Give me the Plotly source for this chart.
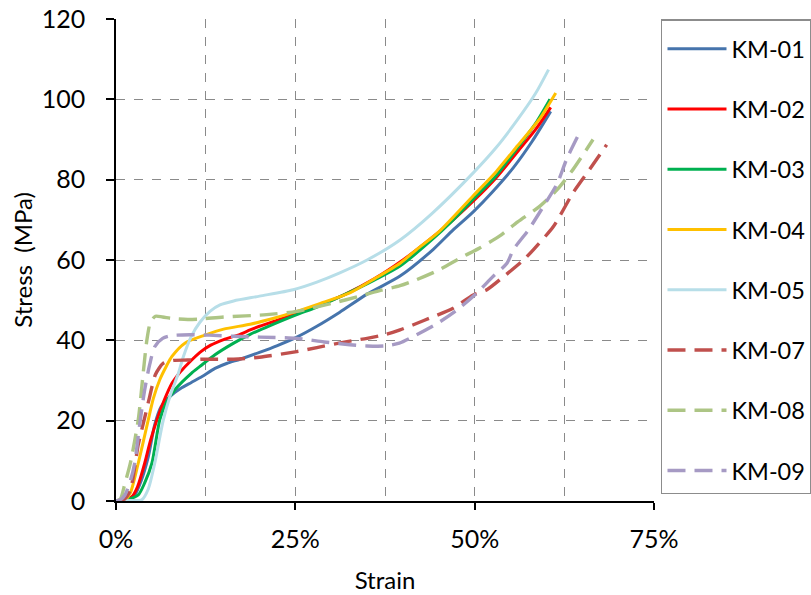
import plotly.graph_objects as go

names = ["KM-01", "KM-02", "KM-03", "KM-04", "KM-05", "KM-07", "KM-08", "KM-09"]
colors = ["#4674AC", "#FF0000", "#00B050", "#FFC000", "#B7DEE8", "#C0504D", "#ADC585", "#A69AC4"]
dashed = [False, False, False, False, False, True, True, True]

# strain (%) and stress (MPa)
km01_x = [0, 1.5, 2.6, 3.5, 4.5, 5.4, 6.3, 7.5, 9, 10.5, 12, 13.8, 15.5, 17.3, 20, 22.5, 25.2, 28, 31.2, 35, 39.6, 44.2, 47, 49.8, 52.5, 55.4, 58, 60.6]
km01_y = [0, 0.5, 1.5, 5, 11, 19, 23.5, 26, 28, 29.5, 31, 33, 34.3, 35.3, 37, 38.7, 40.8, 43.5, 47, 51.5, 56, 62.6, 67.5, 72, 77, 83, 89.5, 97]

km02_x = [0, 1.2, 2.2, 3, 4, 4.8, 5.7, 6.7, 7.8, 9, 10.1, 11.7, 13.2, 15, 17.3, 18.7, 20, 22.5, 24.7, 28, 32, 36, 40, 44, 47, 50, 53, 56, 58.5, 60.6]
km02_y = [0, 0.3, 1, 3.5, 9.4, 15, 20.2, 25, 29.3, 32.2, 34.3, 37, 38.8, 40.2, 41.5, 42.6, 43.5, 45, 46.4, 48.5, 51.5, 55.3, 60, 65.5, 70, 75, 80.5, 87, 92.5, 98]

km03_x = [0, 1.5, 3.1, 4, 5, 6.1, 7, 8.2, 10.5, 11.7, 13.8, 16.4, 18.7, 21, 25.2, 28, 32, 36, 39.6, 44, 47, 50, 53, 56, 58.5, 60.5]
km03_y = [0, 0.3, 1.5, 4.5, 9.4, 20.2, 24.5, 27.7, 31.8, 33.5, 36.4, 39.3, 41.5, 43.3, 46.4, 48.3, 51.5, 55, 58.5, 65, 70, 75.5, 81, 88, 94, 100]

km04_x = [0, 1.25, 2, 3.1, 4.5, 5.2, 6.1, 7, 7.8, 9.6, 12.4, 15, 18.7, 22, 25.2, 28.5, 32.6, 36, 39.6, 41.9, 45, 49.8, 53, 56, 59, 61.3]
km04_y = [0, 0.2, 2, 9.4, 20.2, 25.5, 30.2, 33.5, 36, 39.3, 41.3, 42.8, 44, 45.5, 47.2, 49.2, 51.8, 55.3, 59.2, 62.6, 67, 76, 82, 88.5, 95, 101.6]

km05_x = [0, 2, 3.6, 4.5, 5.4, 6.6, 7.6, 8.7, 9.4, 10.5, 11.7, 13.1, 14.5, 16.4, 20, 24.7, 28, 31.2, 35, 39.6, 44, 49.8, 53, 56, 58.5, 60.3]
km05_y = [0, 0.1, 0.3, 3, 9.4, 20.2, 26.5, 31.8, 36, 41, 44.5, 47.2, 48.8, 49.8, 51, 52.6, 54.5, 56.8, 60, 65, 71.5, 81.7, 88, 95, 101.5, 107.4]

km07_x = [0, 1.2, 2, 3.1, 3.9, 4.7, 5.5, 6.6, 8, 10, 12, 16.4, 20, 25.2, 28, 32, 35, 37.5, 39.6, 43, 47, 49.8, 51.7, 54, 56.8, 58.2, 61, 63.7, 66, 68.4]
km07_y = [0, 0.5, 2.7, 14, 20, 26, 31.5, 34.3, 35, 35.1, 35.3, 35.3, 35.8, 37.2, 38.2, 39.6, 40.5, 41.4, 42.6, 45, 48, 51.3, 52.6, 55.8, 60, 62.6, 68.4, 76.7, 82.5, 88.7]

km08_x = [0, 0.6, 1.25, 2, 3.1, 3.8, 4.3, 4.8, 5.5, 6.5, 8, 10, 11.7, 15, 21, 25.2, 30.3, 34, 37, 39.6, 41.9, 45, 48, 50.7, 53.5, 56, 59.1, 61.5, 63.7, 66.5]
km08_y = [0, 0.5, 4.4, 9.4, 20.2, 32, 40, 44.5, 46, 45.8, 45.4, 45.2, 45.3, 45.8, 46.4, 47.2, 49.3, 51, 52.5, 53.6, 55.1, 57.5, 60.5, 63, 66, 69.5, 73.4, 77.5, 82.5, 90]

km09_x = [0, 0.6, 1.25, 2, 2.6, 3.3, 4, 4.7, 5.4, 6.5, 7.8, 10.3, 13, 16.4, 20, 25.2, 29, 32.6, 35, 37.5, 39.5, 41.5, 44.7, 47.5, 50.3, 52.5, 54.5, 55.4, 57.5, 59.6, 61.5, 62.8, 64.6]
km09_y = [0, 0.3, 1.5, 5, 9.4, 19, 27.7, 34, 38.4, 40.5, 41.2, 41.4, 41.3, 41, 40.8, 40.5, 39.6, 38.9, 38.6, 38.6, 39.3, 41, 44.1, 47.5, 51.8, 55.8, 59.2, 62.6, 67.5, 73.4, 79, 85, 91.6]

xs = [km01_x, km02_x, km03_x, km04_x, km05_x, km07_x, km08_x, km09_x]
ys = [km01_y, km02_y, km03_y, km04_y, km05_y, km07_y, km08_y, km09_y]

x_ticks = [0, 0.25, 0.5, 0.75]
y_ticks = [0, 20, 40, 60, 80, 100, 120]

FONT = "Lato"
fig = go.Figure()
for i, n in enumerate(names):
    fig.add_trace(go.Scatter(
        x=[v / 100 for v in xs[i]], y=ys[i], name=n, mode="lines",
        legendgroup=n,
        line=dict(color=colors[i], width=3.4 if dashed[i] else 3,
                  dash="18px,9px" if dashed[i] else "solid",
                  shape="spline", smoothing=0.7),
    ))

grid = "#8a8a8a"
fig.update_layout(
    width=811, height=595,
    margin=dict(l=116, r=157, t=19, b=94, autoexpand=False),
    paper_bgcolor="white", plot_bgcolor="white",
    font=dict(family=FONT, size=25, color="black"),
    showlegend=True,
    legend=dict(
        x=1.013, y=1.0, xanchor="left", yanchor="top",
        bordercolor="#8c8c8c", borderwidth=1.5,
        traceorder="grouped", tracegroupgap=26.7,
        itemwidth=59, maxheight=700,
        title=dict(text="\u00a0", font=dict(size=5)),
        font=dict(family=FONT, size=23.5, color="black"),
    ),
    xaxis=dict(
        range=[0, 0.75], tickvals=x_ticks, tickformat=".0%",
        showline=True, linecolor="black", linewidth=1.5,
        ticks="outside", ticklen=7, tickwidth=1.5, tickcolor="black",
        ticklabelstandoff=8, automargin=False,
        showgrid=True, gridcolor=grid, griddash="dash", gridwidth=1,
        minor=dict(dtick=0.125, tick0=0, showgrid=True, gridcolor=grid, griddash="dash", gridwidth=1),
        zeroline=False,
        title=dict(text="Strain", standoff=20, font=dict(family=FONT, size=24)),
    ),
    yaxis=dict(
        range=[0, 120], tickvals=y_ticks,
        showline=True, linecolor="black", linewidth=1.5,
        ticks="outside", ticklen=8, tickwidth=1.5, tickcolor="black",
        ticklabelstandoff=16, automargin=False,
        showgrid=True, gridcolor=grid, griddash="dash", gridwidth=1,
        zeroline=False,
        title=dict(text="Stress\u00a0 (MPa)", standoff=2, font=dict(family=FONT, size=24)),
    ),
)

fig.write_html("out.html")
